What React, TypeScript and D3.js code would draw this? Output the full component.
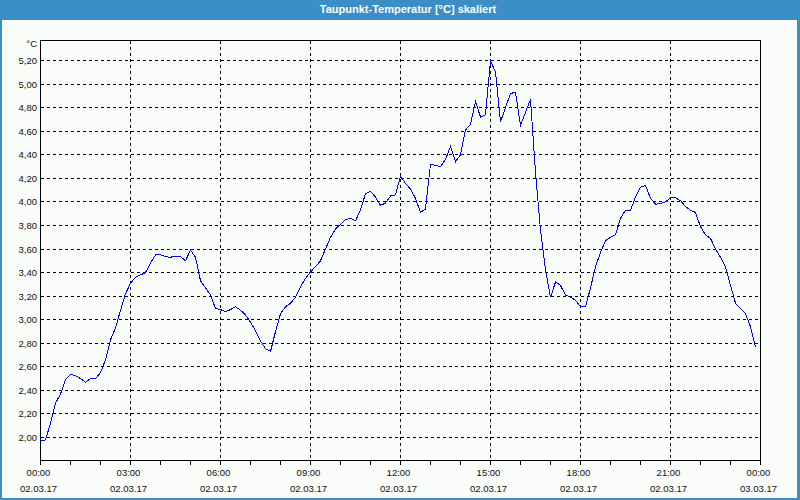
import React, { useEffect } from "react";
import * as d3 from "d3";

const title = "Taupunkt-Temperatur [°C] skaliert";
const yUnit = "°C";

// Measurements every 10 minutes starting 02.03.17 00:00
const startTime = new Date(2017, 2, 2, 0, 0);
const endTime = new Date(2017, 2, 3, 0, 0);
const stepMinutes = 10;
const dewPoint = [
  1.97, 1.98, 2.12, 2.29, 2.37, 2.49, 2.535, 2.525, 2.5, 2.47,
  2.5, 2.5, 2.55, 2.66, 2.83, 2.93, 3.08, 3.22, 3.31, 3.36,
  3.38, 3.4, 3.48, 3.55, 3.55, 3.535, 3.53, 3.54, 3.535, 3.5,
  3.59, 3.53, 3.33, 3.27, 3.21, 3.095, 3.085, 3.07, 3.085, 3.11,
  3.08, 3.04, 2.98, 2.905, 2.82, 2.755, 2.73, 2.9, 3.05, 3.11,
  3.14, 3.19, 3.28, 3.35, 3.405, 3.45, 3.5, 3.6, 3.7, 3.77,
  3.81, 3.85, 3.86, 3.84, 3.93, 4.07, 4.09, 4.04, 3.97, 3.99,
  4.05, 4.06, 4.22, 4.155, 4.11, 4.03, 3.91, 3.94, 4.32, 4.31,
  4.3, 4.36, 4.47, 4.34, 4.4, 4.61, 4.66, 4.85, 4.72, 4.74,
  5.2, 5.1, 4.68, 4.8, 4.92, 4.93, 4.65, 4.76, 4.87, 4.25,
  3.76, 3.42, 3.19, 3.32, 3.29, 3.21, 3.19, 3.165, 3.11, 3.11,
  3.27, 3.45, 3.57, 3.67, 3.7, 3.72, 3.86, 3.93, 3.93, 4.04,
  4.125, 4.14, 4.03, 3.98, 3.985, 4.0, 4.035, 4.035, 4.01, 3.96,
  3.93, 3.91, 3.79, 3.72, 3.69, 3.6, 3.53, 3.45, 3.29, 3.14,
  3.095, 3.05, 2.94, 2.77,
];

const yTickValues = [2.0, 2.2, 2.4, 2.6, 2.8, 3.0, 3.2, 3.4, 3.6, 3.8, 4.0, 4.2, 4.4, 4.6, 4.8, 5.0, 5.2];
const xTickHours = [0, 3, 6, 9, 12, 15, 18, 21, 24];
const xTickTimeLabels = ["00:00", "03:00", "06:00", "09:00", "12:00", "15:00", "18:00", "21:00", "00:00"];
const xTickDateLabels = ["02.03.17", "02.03.17", "02.03.17", "02.03.17", "02.03.17", "02.03.17", "02.03.17", "02.03.17", "03.03.17"];

const W = 800;
const H = 500;
const FONT = "'Liberation Sans', Arial, sans-serif";

export default function App() {
  useEffect(() => {
    document.body.style.margin = "0";
  }, []);

  const left = 40.5, right = 760.5, top = 40.5, bottom = 460.5;
  const x = d3.scaleTime().domain([startTime, endTime]).range([left, right]);
  const y = d3.scaleLinear().domain([2, 5.2]).range([437.5, 60.5]);
  const fmt = d3.format(".2f");

  const points = dewPoint.map((v, i) => ({
    t: new Date(startTime.getTime() + i * stepMinutes * 60000),
    v,
  }));
  const line = d3
    .line<{ t: Date; v: number }>()
    .x((d) => x(d.t))
    .y((d) => y(d.v));

  const hourTicks = d3.range(0, 25).map((h) => new Date(startTime.getTime() + h * 3600000));

  return (
    <svg
      width={W}
      height={H}
      style={{ position: "absolute", left: 0, top: 0, display: "block" }}
      fontFamily={FONT}
    >
      <rect x={0} y={0} width={W} height={H} fill="#3c8fc6" />
      <rect x={2} y={20} width={W - 5} height={H - 22} fill="#fafcfa" />
      <text x={408} y={13} fill="#ffffff" fontSize={11} fontWeight={700} textAnchor="middle">
        {title}
      </text>

      {/* horizontal grid */}
      {yTickValues.map((v) => (
        <line
          key={"gy" + v}
          x1={left}
          x2={right}
          y1={Math.round(y(v) - 0.5) + 0.5}
          y2={Math.round(y(v) - 0.5) + 0.5}
          stroke="#000"
          strokeWidth={1}
          strokeDasharray="3,3"
          shapeRendering="crispEdges"
        />
      ))}
      {/* vertical grid */}
      {xTickHours.slice(1, -1).map((h) => {
        const xx = x(new Date(startTime.getTime() + h * 3600000));
        return (
          <line
            key={"gx" + h}
            x1={xx}
            x2={xx}
            y1={top}
            y2={bottom}
            stroke="#000"
            strokeWidth={1}
            strokeDasharray="3,3"
            shapeRendering="crispEdges"
          />
        );
      })}

      {/* data line */}
      <path
        d={line(points) || ""}
        fill="none"
        stroke="#0000ff"
        strokeWidth={1}
        shapeRendering="crispEdges"
      />

      {/* frame */}
      <rect
        x={left}
        y={top}
        width={right - left}
        height={bottom - top}
        fill="none"
        stroke="#000"
        strokeWidth={1}
        shapeRendering="crispEdges"
      />

      {/* hourly ticks */}
      {hourTicks.map((t, i) => (
        <line
          key={"t" + i}
          x1={x(t)}
          x2={x(t)}
          y1={bottom}
          y2={bottom + 4}
          stroke="#000"
          strokeWidth={1}
          shapeRendering="crispEdges"
        />
      ))}

      {/* y labels */}
      <text x={37} y={47} fontSize={9.5} textAnchor="end" fill="#111">
        {yUnit}
      </text>
      {yTickValues.map((v) => (
        <text key={"ly" + v} x={37} y={y(v) + 3.5} fontSize={9.5} textAnchor="end" fill="#111">
          {fmt(v).replace(".", ",")}
        </text>
      ))}

      {/* x labels */}
      {xTickHours.map((h, i) => {
        const xx = x(new Date(startTime.getTime() + h * 3600000)) - 2;
        return (
          <g key={"lx" + h}>
            <text x={xx} y={476} fontSize={9.5} textAnchor="middle" fill="#111">
              {xTickTimeLabels[i]}
            </text>
            <text x={xx} y={492} fontSize={9.5} textAnchor="middle" fill="#111">
              {xTickDateLabels[i]}
            </text>
          </g>
        );
      })}
    </svg>
  );
}
